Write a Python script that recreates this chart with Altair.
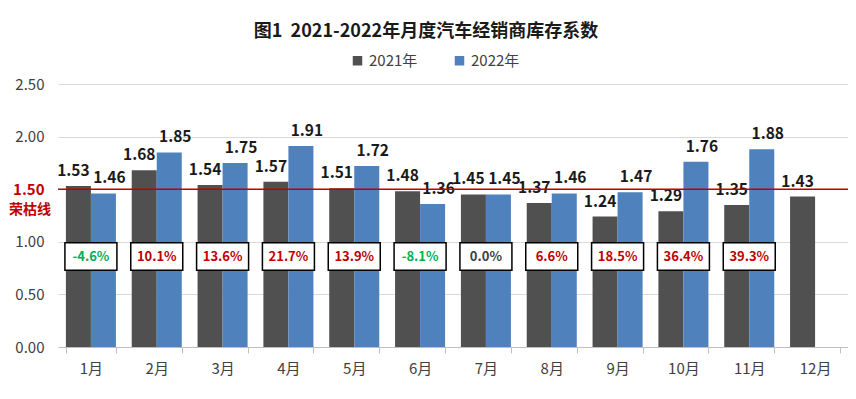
import altair as alt
import pandas as pd

months = [f"{i}月" for i in range(1, 13)]
years = ["2021年", "2022年"]
v2021 = [1.53, 1.68, 1.54, 1.57, 1.51, 1.48, 1.45, 1.37, 1.24, 1.29, 1.35, 1.43]
v2022 = [1.46, 1.85, 1.75, 1.91, 1.72, 1.36, 1.45, 1.46, 1.47, 1.76, 1.88, None]
pct = [-4.6, 10.1, 13.6, 21.7, 13.9, -8.1, 0.0, 6.6, 18.5, 36.4, 39.3, None]
line_value = 1.5
line_label = "荣枯线"
title_text = "图1\u00a0\u00a02021-2022年月度汽车经销商库存系数"

FONT = "Noto Sans CJK SC"
C2021 = "#505050"
C2022 = "#4F81BD"
RED = "#C00000"
GREEN = "#00B050"
W, H = 790, 263

rows = []
for m, a, b in zip(months, v2021, v2022):
    rows.append({"month": m, "year": years[0], "value": a})
    if b is not None:
        rows.append({"month": m, "year": years[1], "value": b})
bars_df = pd.DataFrame(rows)

box_low, box_high = 0.73, 0.99
prow = []
for m, p in zip(months, pct):
    if p is None:
        continue
    sign = "neg" if p < 0 else ("pos" if p > 0 else "zero")
    prow.append({"month": m, "label": f"{p:.1f}%", "sign": sign,
                 "lo": box_low, "hi": box_high, "mid": (box_low + box_high) / 2})
pct_df = pd.DataFrame(prow)

xenc = alt.X("month:N", sort=months, title=None,
             scale=alt.Scale(paddingInner=0.24, paddingOuter=0.12),
             axis=alt.Axis(labelAngle=0, labelFontSize=15, labelColor="#404040",
                           labelFont=FONT, domainColor="#BFBFBF", tickColor="#BFBFBF",
                           tickBand="extent", tickSize=6, labelPadding=8))
yscale = alt.Scale(domain=[0, 2.5], nice=False)

bars = alt.Chart(bars_df).mark_bar().encode(
    x=xenc,
    xOffset=alt.XOffset("year:N", sort=years, scale=alt.Scale(paddingInner=0, paddingOuter=0)),
    y=alt.Y("value:Q", scale=yscale, title=None,
            axis=alt.Axis(values=[0, 0.5, 1.0, 1.5, 2.0, 2.5], format=".2f",
                          domain=False, ticks=False, gridColor="#D9D9D9",
                          labelFontSize=15, labelFont=FONT, labelPadding=14,
                          labelColor={"condition": {"test": "datum.value == 1.5", "value": RED},
                                      "value": "#404040"},
                          labelFontWeight={"condition": {"test": "datum.value == 1.5", "value": "bold"},
                                           "value": "normal"})),
    color=alt.Color("year:N", sort=years,
                    scale=alt.Scale(domain=years, range=[C2021, C2022]),
                    legend=alt.Legend(title=None, orient="none", direction="horizontal",
                                      legendX=292, legendY=-31, symbolType="square",
                                      symbolSize=90, labelFontSize=15, labelFont=FONT,
                                      labelColor="#404040", columnPadding=34, symbolStrokeWidth=0)),
)


def bar_label_layer(year, dx):
    return alt.Chart(bars_df).transform_filter(
        alt.datum.year == year
    ).mark_text(
        baseline="bottom", dy=-7, dx=dx, fontSize=15.5, fontWeight="bold", font=FONT, color="#1A1A1A"
    ).encode(
        x=alt.X("month:N", sort=months),
        xOffset=alt.XOffset("year:N", sort=years),
        y=alt.Y("value:Q", scale=yscale),
        text=alt.Text("value:Q", format=".2f"),
    )


labels21 = bar_label_layer(years[0], -5)
labels22 = bar_label_layer(years[1], 6)

rule = alt.Chart(pd.DataFrame({"y": [line_value]})).mark_rule(color=RED, strokeWidth=1.5).encode(
    y=alt.Y("y:Q", scale=yscale)
)

rule_label = alt.Chart(pd.DataFrame({"y": [line_value], "t": [line_label]})).mark_text(
    color=RED, fontWeight="bold", fontSize=14, font=FONT, dy=21, align="center"
).encode(x=alt.value(-28), y=alt.Y("y:Q", scale=yscale), text="t:N")

boxes = alt.Chart(pct_df).mark_bar(size=52, fill="white", stroke="black", strokeWidth=1.5).encode(
    x=alt.X("month:N", sort=months),
    y=alt.Y("lo:Q", scale=yscale),
    y2="hi:Q",
)

box_text = alt.Chart(pct_df).mark_text(
    fontSize=13, fontWeight="bold", font=FONT, baseline="middle"
).encode(
    x=alt.X("month:N", sort=months),
    y=alt.Y("mid:Q", scale=yscale),
    text="label:N",
    color=alt.Color("sign:N", scale=alt.Scale(domain=["neg", "pos", "zero"],
                                              range=[GREEN, RED, "#404040"]), legend=None),
)

chart = alt.layer(bars, labels21, labels22, rule, rule_label, boxes, box_text).resolve_scale(
    color="independent"
).properties(
    width=W, height=H,
    title=alt.TitleParams(title_text, fontSize=18,
                          fontWeight="bold", font=FONT, color="#1A1A1A", anchor="middle",
                          offset=12, dx=-27),
    autosize=alt.AutoSizeParams(type="none"),
    padding={"left": 50, "top": 76, "right": 0, "bottom": 40},
).configure_view(stroke=None)

chart.save("out.html", embed_options={"renderer": "svg", "actions": False})
